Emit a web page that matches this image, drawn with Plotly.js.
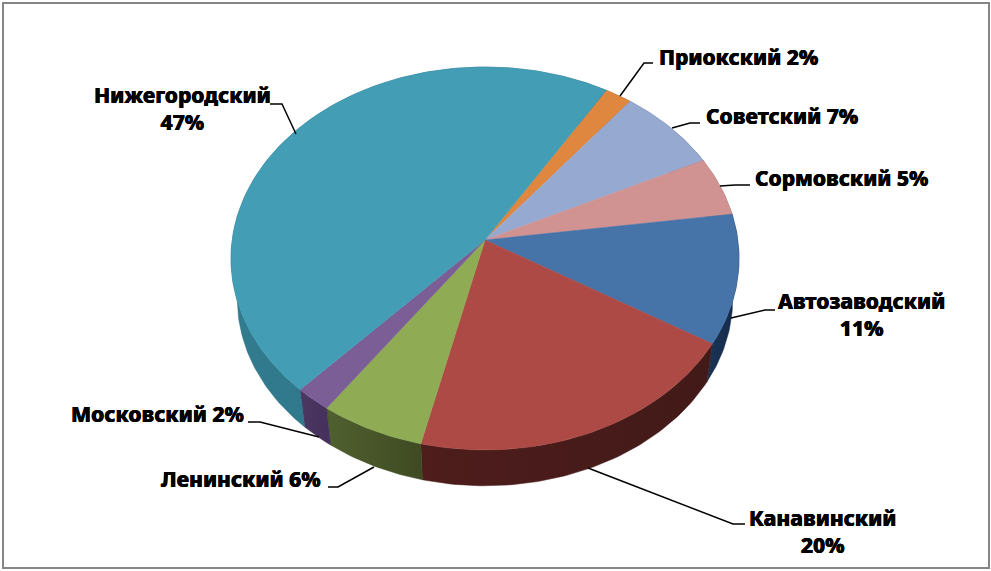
<!DOCTYPE html>
<html><head><meta charset="utf-8">
<script src="https://cdn.plot.ly/plotly-3.0.1.min.js"></script>
<style>html,body{margin:0;padding:0;background:#fff}#c{width:991px;height:571px}</style>
</head><body><div id="c"></div>
<script>
const categories = ["Приокский","Советский","Сормовский","Автозаводский","Канавинский","Ленинский","Московский","Нижегородский"];
const values = [1.9,7.2,5,10.9,20,6.1,2.1,46.8];
const wrapped = [false,false,false,true,true,false,false,true];
const topColors = ["#e0873f","#95a9d1","#d19392","#4673a8","#ad4a46","#8fab54","#7b5e96","#429db5"];
const wallLeft = ["#8a4f1e","#5a6a8c","#8a5a5a","#1a3556","#4e1d1c","#50602f","#4c3763","#327c90"];
const wallRight = ["#8a4f1e","#5a6a8c","#8a5a5a","#15294a","#421a18","#3f4a22","#44305a","#2a687c"];
const startAngle = 31.3;
const labelCenters = [[738,57],[782,116],[841,178],[861,314],[822,531],[241,479],[157,414],[182,108]];
const leaders = [
  [[653,63],[644,63],[620,96]],
  [[700,123],[690,123],[672,128]],
  [[750,185],[735,185],[720,186]],
  [[775,310],[765,310],[731,318]],
  [[745,524],[733,524],[588,468]],
  [[328,487],[338,487],[374,467]],
  [[248,422],[260,422],[319,437]],
  [[270,104],[282,104],[296,134]]
];
const FONT = '"Noto Sans", sans-serif';
const CX = 485, K = 0.0966;
const TOPF = {a:252.8, b:189.7, y:240};
const LOWF = {a:246.5, b:185.0, y:281};
function pt(f, deg){
  const r = deg*Math.PI/180, u = Math.sin(r), v = Math.cos(r), w = 1+K*v;
  return [CX + f.a*u/w, f.y - f.b*v/w];
}
function arc(f,a0,a1){
  const n = Math.max(2,Math.ceil(Math.abs(a1-a0))), out=[];
  for(let i=0;i<=n;i++) out.push(pt(f,a0+(a1-a0)*i/n));
  return out;
}
const total = values.reduce((s,v)=>s+v,0);
let ang = startAngle;
const spans = values.map(v=>{const a0=ang; ang+=v/total*360; return [a0,ang];});
const traces = [];
function poly(points, extra){
  const xs = points.map(p=>p[0]), ys = points.map(p=>p[1]);
  xs.push(xs[0]); ys.push(ys[0]);
  return Object.assign({type:'scatter',mode:'lines',x:xs,y:ys,fill:'toself',hoverinfo:'skip',showlegend:false},extra);
}
spans.forEach((s,i)=>{
  const pts = arc(TOPF,s[0],s[1]).concat(arc(LOWF,s[1],s[0]));
  traces.push(poly(pts,{line:{width:0.5,color:wallRight[i]},
    fillgradient:{type:'horizontal',colorscale:[[0,wallLeft[i]],[1,wallRight[i]]]}}));
});
spans.forEach((s,i)=>{
  const pts = [[CX,TOPF.y]].concat(arc(TOPF,s[0],s[1]));
  traces.push(poly(pts,{line:{width:0.5,color:topColors[i]},fillcolor:topColors[i]}));
});
leaders.forEach(l=>traces.push({type:'scatter',mode:'lines',x:l.map(p=>p[0]),y:l.map(p=>p[1]),
  line:{color:'#000',width:1.5},hoverinfo:'skip',showlegend:false}));
const annotations = categories.map((c,i)=>({
  x:labelCenters[i][0],y:labelCenters[i][1],xref:'x',yref:'y',showarrow:false,align:'center',
  xanchor:'center',yanchor:'middle',
  text:c+(wrapped[i]?'<br>':' ')+Math.round(values[i])+'%',
  font:{family:FONT,size:21,weight:800,color:'#000',shadow:'0.3px 0 0 #000, -0.3px 0 0 #000'}
}));
const ax = {range:[0,991],visible:false,fixedrange:true};
Plotly.newPlot('c',traces,{
  width:991,height:571,margin:{l:0,r:0,t:0,b:0},paper_bgcolor:'#fff',plot_bgcolor:'#fff',showlegend:false,
  xaxis:ax,yaxis:{range:[571,0],visible:false,fixedrange:true},annotations,
  shapes:[{type:'rect',xref:'x',yref:'y',x0:3,y0:3,x1:989,y1:568,line:{color:'#868686',width:2},fillcolor:'rgba(0,0,0,0)'}]
},{displayModeBar:false,staticPlot:true});
</script></body></html>
